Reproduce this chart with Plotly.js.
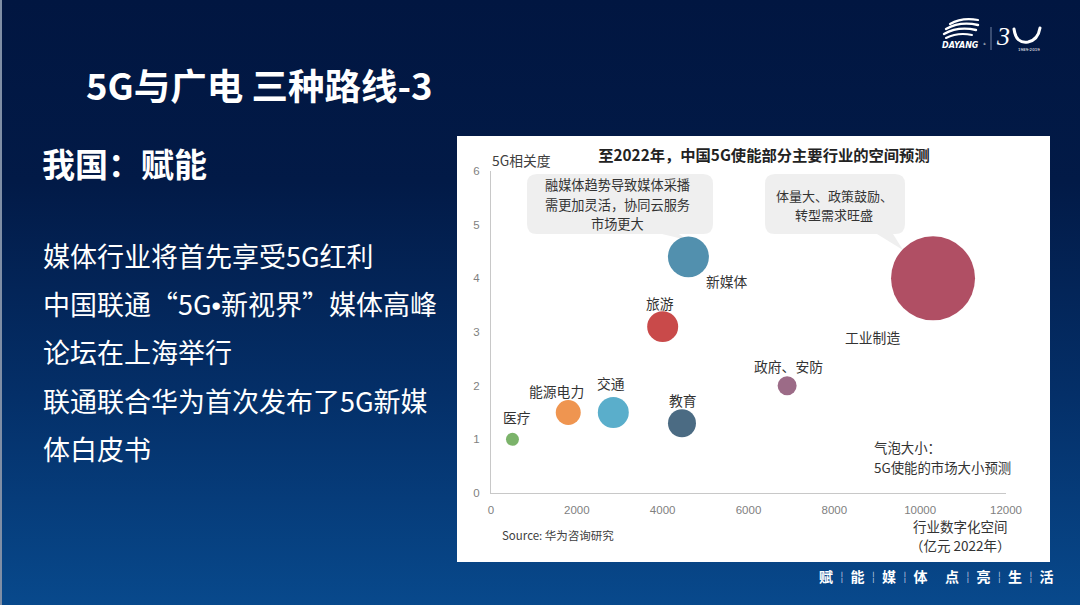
<!DOCTYPE html>
<html>
<head>
<meta charset="utf-8">
<script src="https://cdn.plot.ly/plotly-3.0.1.min.js"></script>
<style>
  html, body { margin:0; padding:0; }
  body { width:1080px; height:605px; overflow:hidden; position:relative;
    font-family: "Noto Sans CJK SC", "Noto Sans", sans-serif;
    background: linear-gradient(to bottom, #011641 0%, #021a47 30%, #042f68 65%, #08498c 100%); }
  .strip { position:absolute; left:0; top:0; width:2px; height:605px; background:#7f8ea5; }
  .t { position:absolute; color:#fff; white-space:nowrap; }
  #title { left:86px; top:62px; font-size:36.5px; line-height:46px; font-weight:700; }
  #sub { left:42px; top:143px; font-size:33px; line-height:40px; font-weight:700; }
  .body { left:43px; font-size:27px; line-height:48px; font-weight:400; }
  .lat { font-family: "Liberation Sans", sans-serif; }
  #chartbox { position:absolute; left:457px; top:136px; width:593px; height:426px; background:#fff; }
  #tag { position:absolute; top:566px; left:818px; height:20px; display:flex; color:#fff; font-weight:700; font-size:14px; line-height:20px; }
  #tag span { display:inline-block; text-align:center; }
  #tag .c { width:16px; }
  #tag .s { width:15.5px; font-size:10px; font-weight:400; color:#c8d4e8; }
</style>
</head>
<body>
<div class="strip"></div>
<div id="title" class="t">5G与广电 三种路线-3</div>
<div id="sub" class="t">我国：赋能</div>
<div class="t body" style="top:232px">媒体行业将首先享受5G红利</div>
<div class="t body" style="top:280px">中国联通“5G<span class="lat">•</span>新视界”媒体高峰</div>
<div class="t body" style="top:328px">论坛在上海举行</div>
<div class="t body" style="top:377px">联通联合华为首次发布了5G新媒</div>
<div class="t body" style="top:425px">体白皮书</div>

<svg style="position:absolute;left:900px;top:0px" width="180" height="70">
  <g fill="none" stroke="#fff" stroke-linecap="round">
    <path d="M50 24 Q62 17 78 20" stroke-width="2.2"/>
    <path d="M46 29 Q60 21 78 25" stroke-width="2.4"/>
    <path d="M44 34 Q58 26 76 30" stroke-width="2.4"/>
    <path d="M46 38 Q58 32 72 35" stroke-width="2"/>
  </g>
  <text x="42" y="48" fill="#fff" font-family="DejaVu Sans" font-size="8" font-weight="700" font-style="italic">DAYANG</text>
  <text x="83" y="45" fill="#fff" font-family="DejaVu Sans" font-size="3">®</text>
  <line x1="91" y1="27" x2="91" y2="50" stroke="#8fa0bb" stroke-width="0.8"/>
  <text x="97" y="45" fill="#fff" font-family="Liberation Serif" font-size="26" font-style="italic">3</text>
  <path d="M114 29 Q116 44 128 42 Q138 40 140 28" fill="none" stroke="#fff" stroke-width="3" stroke-linecap="round"/>
  <text x="118" y="51" fill="#fff" font-family="DejaVu Sans" font-size="4">1989-2019</text>
</svg>

<div id="chartbox"></div>

<div id="tag">
  <span class="c">赋</span><span class="s">¦</span><span class="c">能</span><span class="s">¦</span><span class="c">媒</span><span class="s">¦</span><span class="c">体</span><span class="s"></span><span class="c">点</span><span class="s">¦</span><span class="c">亮</span><span class="s">¦</span><span class="c">生</span><span class="s">¦</span><span class="c">活</span>
</div>

<script>
// ---------- data ----------
const industries = ["医疗", "能源电力", "交通", "教育", "旅游", "新媒体", "工业制造", "政府、安防"];
const digitalSpace = [500, 1800, 2850, 4450, 4000, 4600, 10300, 6900];     // 行业数字化空间（亿元 2022年）
const relevance = [1.0, 1.5, 1.5, 1.3, 3.1, 4.4, 4.0, 2.0];                // 5G相关度
const marketSize = [42, 156, 240, 196, 240, 420, 1764, 90];                  // 气泡大小：5G使能的市场大小预测
const xTicks = [0, 2000, 4000, 6000, 8000, 10000, 12000];
const yTicks = [0, 1, 2, 3, 4, 5, 6];
const calloutMedia = ["融媒体趋势导致媒体采播", "需更加灵活，协同云服务", "市场更大"];
const calloutIndustry = ["体量大、政策鼓励、", "转型需求旺盛"];
const sizeNote = ["气泡大小：", "5G使能的市场大小预测"];
const xTitle = ["行业数字化空间", "（亿元 2022年）"];

// ---------- styles ----------
const colors = ["#7bb36a", "#ef9550", "#5aaecb", "#4b6b83", "#c94a4a", "#5290ae", "#b04f64", "#9c6b87"];
const labelShift = [[5, 22], [-12, 22], [-2, 30], [1, 23], [-3, 24], [39, -24], [-61, -59], [1, 20]];

const W = 593, H = 426;
const M = { l: 34, r: 44, t: 35, b: 69 };
const PW = W - M.l - M.r, PH = H - M.t - M.b;
const XR = [0, 12000], YR = [0, 6];
const fx = px => XR[0] + (px - M.l) / PW * (XR[1] - XR[0]);
const fy = py => YR[0] + (M.t + PH - py) / PH * (YR[1] - YR[0]);
const px2x = px => (px - M.l) / PW;
const py2y = py => (M.t + PH - py) / PH;

function callout(L, T, R, B, r, tail) {
  const p = (x, y) => fx(x) + "," + fy(y);
  return "M" + p(L + r, T) + " L" + p(R - r, T) + " Q" + p(R, T) + " " + p(R, T + r) +
    " L" + p(R, B - r) + " Q" + p(R, B) + " " + p(R - r, B) +
    " L" + p(tail[1], B) + " L" + p(tail[2], tail[3]) + " L" + p(tail[0], B) +
    " L" + p(L + r, B) + " Q" + p(L, B) + " " + p(L, B - r) +
    " L" + p(L, T + r) + " Q" + p(L, T) + " " + p(L + r, T) + " Z";
}

const trace = {
  type: "scatter", mode: "markers",
  x: digitalSpace, y: relevance,
  marker: { size: marketSize, sizemode: "area", sizeref: 0.5, color: colors, opacity: 1, line: { width: 0 } },
  hoverinfo: "skip", showlegend: false, cliponaxis: false
};

const FAM = "Noto Sans CJK SC";
const annotations = industries.map((n, i) => ({
  x: digitalSpace[i], y: relevance[i], xref: "x", yref: "y", text: n, showarrow: false,
  xshift: labelShift[i][0], yshift: labelShift[i][1], font: { family: FAM, size: 13.8, color: "#333" },
  xanchor: "center", yanchor: "middle"
}));

function paperText(text, x, y, size, xanchor, color) {
  return { text, x: px2x(x), y: py2y(y), xref: "paper", yref: "paper", showarrow: false, borderpad: 0,
    xanchor, yanchor: "middle", font: { family: FAM, size, color: color || "#333" } };
}
function lines(arr, x, y0, dy, size, xanchor, color) {
  arr.forEach((s, i) => annotations.push(paperText(s, x, y0 + i * dy, size, xanchor, color)));
}
annotations.push(paperText("5G相关度", 64, 24, 13.8, "center", "#404040"));
lines(calloutMedia, 160, 49, 19, 13.2, "center");
lines(calloutIndustry, 377, 59, 19, 13, "center");
lines(xTitle, 503, 389.5, 19.5, 13.5, "center");
annotations.push(paperText("Source: 华为咨询研究", 44, 399, 11.5, "left", "#404040"));
lines(sizeNote, 416, 311, 19.5, 13.4, "left");

const shapes = [
  { type: "path", xref: "x", yref: "y", layer: "below", fillcolor: "#efefef", line: { width: 0 },
    path: callout(70, 38, 256, 98, 10, [205, 222, 230, 104]) },
  { type: "path", xref: "x", yref: "y", layer: "below", fillcolor: "#efefef", line: { width: 0 },
    path: callout(308, 38, 448, 98, 10, [420, 436, 446, 114]) }
];

const layout = {
  width: W, height: H, margin: M,
  paper_bgcolor: "#ffffff", plot_bgcolor: "#ffffff",
  font: { family: FAM, color: "#333" },
  title: { text: "<b>至2022年，中国5G使能部分主要行业的空间预测</b>", x: 307 / W, y: 1 - 20 / H,
    xanchor: "center", yanchor: "middle", font: { family: FAM, size: 15.3, color: "#222" } },
  xaxis: { range: XR, tickvals: xTicks, ticktext: xTicks.map(String), showgrid: false, zeroline: false,
    showline: true, linecolor: "#c8c8c8", linewidth: 1, ticks: "", ticklabelstandoff: 6,
    tickfont: { family: "Liberation Sans", size: 11.5, color: "#7f7f7f" }, fixedrange: true },
  yaxis: { range: YR, tickvals: yTicks, ticktext: yTicks.map(String), showgrid: false, zeroline: false,
    showline: true, linecolor: "#c8c8c8", linewidth: 1, ticks: "", ticklabelstandoff: 8,
    tickfont: { family: "Liberation Sans", size: 11.5, color: "#7f7f7f" }, fixedrange: true },
  annotations, shapes, showlegend: false
};

Plotly.newPlot("chartbox", [trace], layout, { displayModeBar: false, staticPlot: true });
</script>
</body>
</html>
